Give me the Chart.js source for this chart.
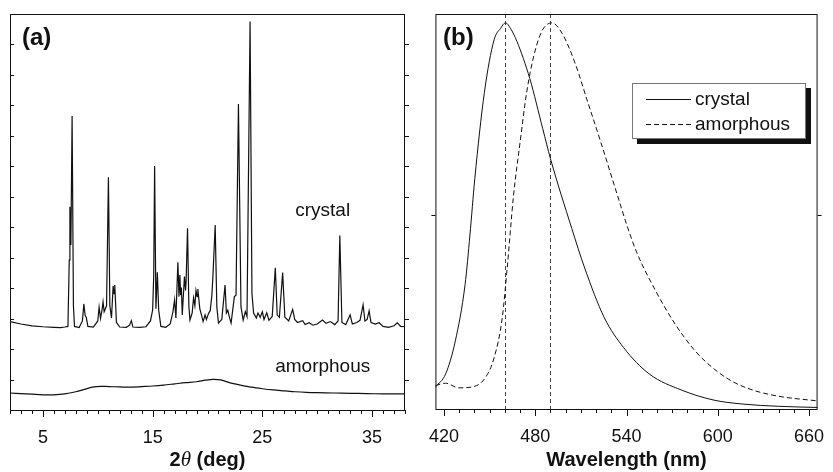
<!DOCTYPE html>
<html>
<head>
<meta charset="utf-8">
<script src="https://cdn.jsdelivr.net/npm/chart.js@4.4.0/dist/chart.umd.min.js"></script>
<style>
  body { margin: 0; background: #fff; }
  #wrap { position: relative; width: 833px; height: 472px; }
  canvas { position: absolute; top: 0; }
  #xrd { left: 0; }
  #pl { left: 420px; }
</style>
</head>
<body>
<div id="wrap">
  <canvas id="xrd" width="420" height="472"></canvas>
  <canvas id="pl" width="413" height="472"></canvas>
</div>
<script>
const FONT = '"Liberation Sans", Arial, Helvetica, sans-serif';

// (a) powder XRD, intensity in arbitrary units (offset traces)
const twoTheta = [2.0, 3.0, 4.0, 5.0, 6.0, 6.6, 7.0, 7.28, 7.40, 7.46, 7.55, 7.66, 7.78, 7.88, 8.3, 8.6, 8.73, 8.85, 8.95, 9.1,
  9.6, 10.0, 10.12, 10.25, 10.4, 10.48, 10.58, 10.8, 10.97, 11.1, 11.25, 11.4, 11.48, 11.55, 11.7, 12.0, 12.6, 12.9, 13.06, 13.2,
  13.8, 14.4, 14.8, 15.0, 15.1, 15.18, 15.3, 15.43, 15.55, 15.75, 16.2, 16.6, 16.85, 17.0, 17.12, 17.3, 17.4, 17.48, 17.55, 17.62,
  17.7, 17.9, 18.0, 18.05, 18.18, 18.3, 18.4, 18.6, 18.73, 18.85, 18.95, 19.05, 19.12, 19.3, 19.45, 19.6, 19.78, 19.9, 20.1, 20.25,
  20.4, 20.5, 20.7, 20.85, 21.0, 21.3, 21.6, 21.72, 21.85, 22.0, 22.15, 22.45, 22.6, 22.82, 23.05, 23.25, 23.45, 23.6, 23.88, 24.05,
  24.2, 24.45, 24.6, 24.8, 25.0, 25.15, 25.4, 25.6, 25.9, 26.18, 26.35, 26.55, 26.85, 27.05, 27.4, 27.76, 27.95, 28.2, 28.67, 28.9,
  29.27, 29.6, 30.0, 30.48, 30.8, 31.2, 31.6, 31.9, 32.06, 32.25, 32.6, 33.0, 33.2, 33.6, 33.9, 34.18, 34.35, 34.55, 34.73, 34.9,
  35.3, 35.64, 36.0, 36.5, 37.0, 37.3, 37.6, 38.0];
const crystalXrd = [248, 240, 234, 231, 229, 228, 230, 232, 450, 626, 500, 924, 300, 232, 228, 250, 306, 268, 262, 232,
  230, 250, 295, 258, 290, 313, 280, 300, 723, 300, 260, 365, 340, 368, 245, 230, 229, 236, 251, 230,
  229, 231, 250, 286, 400, 760, 290, 410, 286, 232, 229, 240, 280, 319, 260, 443, 330, 401, 335, 360,
  270, 396, 350, 380, 555, 300, 253, 276, 326, 300, 350, 330, 355, 290, 270, 248, 270, 255, 275, 284,
  335, 401, 566, 297, 243, 255, 368, 276, 285, 262, 243, 330, 335, 964, 297, 253, 281, 265, 1235, 341,
  276, 260, 276, 262, 280, 255, 277, 252, 265, 425, 270, 262, 409, 262, 250, 288, 255, 245, 251, 238,
  244, 236, 240, 253, 242, 248, 238, 250, 531, 245, 238, 270, 240, 245, 252, 303, 250, 255, 283, 245,
  240, 244, 232, 229, 234, 244, 232, 231];
const amorphTheta = [2, 3, 4, 5, 6, 7, 8, 8.8, 9.5, 10.3, 11, 12, 13, 14, 15, 16, 17, 18, 19, 19.8, 20.5, 21.2,
  22, 23, 24, 25, 26, 27, 28, 29, 30, 31.5, 33, 34.5, 36, 37, 38];
const amorphXrd = [13, 11, 9, 7, 7, 10, 17, 25, 32, 35, 34, 33, 32, 34, 36, 39, 43, 47, 50, 55, 58, 56,
  47, 39, 32, 27, 23, 20, 17, 15, 14, 13, 12, 11, 10, 10, 10];
const thetaLabels = [5, 15, 25, 35];

// (b) normalised PL spectra
const crystalWl = [414.3, 421, 427.4, 433.8, 437, 440.2, 446.5, 452.9, 457.2, 460.4, 463.6, 467.9, 476.4, 484.9, 490,
  504, 512.5, 525.3, 538, 555, 576.3, 597.6, 616, 640, 665.7];
const crystalPL = [0.054, 0.088, 0.174, 0.32, 0.449, 0.595, 0.819, 0.956, 0.986, 1.0, 0.986, 0.952, 0.855, 0.725, 0.647,
  0.466, 0.363, 0.235, 0.157, 0.088, 0.046, 0.020, 0.010, 0.004, 0.001];
const amorphWl = [414.3, 421, 429.6, 438, 446.5, 452.9, 458.3, 461.5, 465.7, 470, 474.3, 479.5, 484.8, 491, 497.6,
  506.1, 514.6, 523.1, 533.8, 540.2, 546.6, 559.3, 572.1, 584.9, 597.6, 610.4, 623.2, 640.2, 665.7];
const amorphPL = [0.058, 0.064, 0.052, 0.054, 0.075, 0.13, 0.235, 0.363, 0.552, 0.69, 0.819, 0.922, 0.982, 1.0, 0.973,
  0.896, 0.793, 0.69, 0.555, 0.475, 0.405, 0.303, 0.217, 0.149, 0.101, 0.067, 0.046, 0.030, 0.018];
const peakWl = [460, 490];
const wlLabels = [420, 480, 540, 600, 660];
const seriesNames = ['crystal', 'amorphous'];

function pts(xs, ys) {
  return xs.map((x, i) => ({ x: x, y: ys[i] }));
}

// frame + tick marks, taken from the scale ticks
function drawFrame(chart, leftIn) {
  const { ctx, chartArea: a } = chart;
  const x = chart.scales.x, y = chart.scales.y;
  ctx.save();
  ctx.strokeStyle = '#111';
  ctx.lineWidth = 1;
  ctx.strokeRect(a.left + 0.5, a.top + 0.5, a.right - a.left - 1, a.bottom - a.top);
  ctx.beginPath();
  x.ticks.forEach(t => {
    const px = Math.round(x.getPixelForValue(t.value)) + 0.5;
    const len = t.label ? 7 : 4;
    ctx.moveTo(px, a.bottom);
    ctx.lineTo(px, a.bottom + len);
  });
  y.ticks.forEach(t => {
    const py = Math.round(y.getPixelForValue(t.value)) + 0.5;
    if (py < a.top + 3 || py > a.bottom - 3) return;
    ctx.moveTo(a.left, py);
    ctx.lineTo(a.left + (leftIn ? 4 : -4), py);
    ctx.moveTo(a.right, py);
    ctx.lineTo(a.right + 4, py);
  });
  ctx.stroke();
  ctx.restore();
}

function panelLabel(ctx, text, x) {
  ctx.save();
  ctx.font = 'bold 24px ' + FONT;
  ctx.fillStyle = '#111';
  ctx.textBaseline = 'middle';
  ctx.fillText(text, x, 38);
  ctx.restore();
}

const xrdDecor = {
  id: 'xrdDecor',
  afterDraw(chart) {
    const ctx = chart.ctx;
    const x = chart.scales.x, y = chart.scales.y;
    drawFrame(chart, true);
    panelLabel(ctx, '(a)', 22);
    ctx.save();
    ctx.fillStyle = '#111';
    ctx.font = '19px ' + FONT;
    ctx.textAlign = 'center';
    ctx.textBaseline = 'middle';
    ctx.fillText(seriesNames[0], x.getPixelForValue(30.5), y.getPixelForValue(612));
    ctx.fillText(seriesNames[1], x.getPixelForValue(30.5), y.getPixelForValue(99));
    // axis title: 2θ (deg)
    const parts = [
      ['2', 'bold 20px ' + FONT],
      ['\u03B8', 'italic 21px "Liberation Serif", "DejaVu Serif", serif'],
      [' (deg)', 'bold 20px ' + FONT]
    ];
    let total = 0;
    parts.forEach(p => { ctx.font = p[1]; total += ctx.measureText(p[0]).width; });
    let cx = (chart.chartArea.left + chart.chartArea.right) / 2 - total / 2;
    ctx.textAlign = 'left';
    parts.forEach(p => {
      ctx.font = p[1];
      ctx.fillText(p[0], cx, 460);
      cx += ctx.measureText(p[0]).width;
    });
    ctx.restore();
  }
};

const plDecor = {
  id: 'plDecor',
  beforeDatasetsDraw(chart) {
    const { ctx, chartArea: a } = chart;
    const x = chart.scales.x;
    ctx.save();
    ctx.strokeStyle = '#444';
    ctx.lineWidth = 1;
    ctx.setLineDash([4, 3]);
    peakWl.forEach(w => {
      const px = Math.round(x.getPixelForValue(w)) + 0.5;
      ctx.beginPath();
      ctx.moveTo(px, a.top);
      ctx.lineTo(px, a.bottom);
      ctx.stroke();
    });
    ctx.restore();
  },
  afterDraw(chart) {
    const ctx = chart.ctx;
    drawFrame(chart, false);
    panelLabel(ctx, '(b)', 23);
    // legend box with drop shadow
    const bx = 212, by = 83, bw = 174, bh = 56;
    ctx.save();
    ctx.fillStyle = '#111';
    ctx.fillRect(bx + 5, by + 5, bw, bh);
    ctx.fillStyle = '#fff';
    ctx.fillRect(bx, by, bw, bh);
    ctx.strokeStyle = '#777';
    ctx.lineWidth = 1;
    ctx.strokeRect(bx + 0.5, by + 0.5, bw - 1, bh - 1);
    const dashes = [[], [5, 3]];
    ctx.strokeStyle = '#111';
    ctx.fillStyle = '#111';
    ctx.font = '19px ' + FONT;
    ctx.textBaseline = 'middle';
    seriesNames.forEach((name, i) => {
      const ly = by + 16.5 + i * 25;
      ctx.setLineDash(dashes[i]);
      ctx.beginPath();
      ctx.moveTo(bx + 14, ly);
      ctx.lineTo(bx + 59, ly);
      ctx.stroke();
      ctx.fillText(name, bx + 63, ly);
    });
    ctx.restore();
  }
};

new Chart(document.getElementById('xrd'), {
  type: 'line',
  data: {
    datasets: [
      { label: 'crystal', data: pts(twoTheta, crystalXrd), borderColor: '#111', borderWidth: 1.2, pointRadius: 0, tension: 0 },
      { label: 'amorphous', data: pts(amorphTheta, amorphXrd), borderColor: '#111', borderWidth: 1.2, pointRadius: 0, tension: 0.3 }
    ]
  },
  options: {
    responsive: false,
    animation: false,
    events: [],
    layout: { padding: { left: 0, right: 15, top: 14, bottom: 0 } },
    plugins: { legend: { display: false }, tooltip: { enabled: false } },
    scales: {
      x: {
        type: 'linear', min: 2, max: 38,
        grid: { display: false }, border: { display: false },
        ticks: {
          stepSize: 1, autoSkip: false, maxRotation: 0, padding: 9, color: '#111',
          font: { size: 18, family: FONT },
          callback: v => thetaLabels.includes(v) ? String(v) : ''
        },
        afterFit: s => { s.height = 62; }
      },
      y: {
        type: 'linear', min: -43, max: 1260,
        grid: { display: false }, border: { display: false },
        ticks: { display: false, stepSize: 100 },
        afterFit: s => { s.width = 10; }
      }
    }
  },
  plugins: [xrdDecor]
});

new Chart(document.getElementById('pl'), {
  type: 'line',
  data: {
    datasets: [
      { label: 'crystal', data: pts(crystalWl, crystalPL), borderColor: '#111', borderWidth: 1, pointRadius: 0, cubicInterpolationMode: 'monotone' },
      { label: 'amorphous', data: pts(amorphWl, amorphPL), borderColor: '#111', borderWidth: 1, borderDash: [5, 3], pointRadius: 0, cubicInterpolationMode: 'monotone' }
    ]
  },
  options: {
    responsive: false,
    animation: false,
    events: [],
    layout: { padding: { left: 0, right: 6, top: 14, bottom: 0 } },
    plugins: { legend: { display: false }, tooltip: { enabled: false } },
    scales: {
      x: {
        type: 'linear', min: 414.3, max: 665.7,
        grid: { display: false }, border: { display: false },
        title: { display: true, text: 'Wavelength (nm)', color: '#111', font: { size: 20, weight: 'bold', family: FONT }, padding: { top: 0, bottom: 0 } },
        ticks: {
          stepSize: 10, includeBounds: false, autoSkip: false, maxRotation: 0, padding: 9, color: '#111',
          font: { size: 18, family: FONT },
          callback: v => wlLabels.includes(v) ? String(v) : ''
        },
        afterFit: s => { s.height = 63; }
      },
      y: {
        type: 'linear', min: -0.003, max: 1.023,
        grid: { display: false }, border: { display: false },
        ticks: { display: false, stepSize: 0.5 },
        afterFit: s => { s.width = 13; }
      }
    }
  },
  plugins: [plDecor]
});
</script>
</body>
</html>
